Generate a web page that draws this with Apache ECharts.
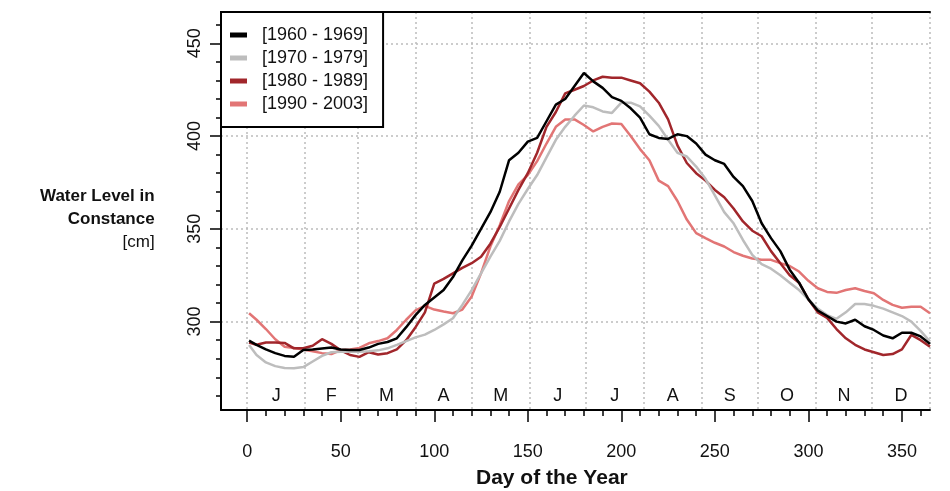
<!DOCTYPE html>
<html>
<head>
    <meta charset="utf-8">
    <title>Water Level in Constance</title>
    <script src="https://cdn.jsdelivr.net/npm/echarts@6/dist/echarts.min.js"></script>
    <style>
        html, body { margin: 0; padding: 0; background: #fff; }
        #chart { width: 950px; height: 491px; }
    </style>
</head>
<body>
<div id="chart"></div>
<script type="text/javascript">
    // day of year (sampled every 5 days)
    var days = [1, 5, 10, 15, 20, 25, 30, 35, 40, 45, 50, 55, 60, 65, 70, 75, 80, 85, 90, 95,
        100, 105, 110, 115, 120, 125, 130, 135, 140, 145, 150, 155, 160, 165, 170, 175, 180, 185, 190, 195,
        200, 205, 210, 215, 220, 225, 230, 235, 240, 245, 250, 255, 260, 265, 270, 275, 280, 285, 290, 295,
        300, 305, 310, 315, 320, 325, 330, 335, 340, 345, 350, 355, 360, 365];

    var level1960 = [289.7, 287.5, 285, 283, 281.5, 281, 284.7, 285, 285.5, 286, 285, 284.7, 284.7, 286, 288, 289, 291, 297, 303.5, 309,
        313, 317, 324, 333, 341, 350, 359, 370, 387, 391, 397, 399, 408, 417, 420, 427, 434, 429.5, 426, 421,
        419, 415, 410, 401, 399, 398.5, 401, 400, 396, 390, 387, 385, 378, 373, 365, 353, 345, 338, 328, 321,
        312, 306, 303, 300, 299, 301, 297.5, 295.5, 292.5, 291, 294, 294, 292, 288];

    var level1970 = [287.4, 282, 278, 276, 275, 274.8, 275.5, 278.5, 281.5, 283.5, 283.8, 283.8, 283.8, 284, 284.5, 285.6, 287.5, 289.5, 291.5, 293,
        295.5, 298.5, 301.8, 309, 317, 326, 335, 343.5, 354, 363.5, 371.5, 379, 388.5, 398, 405, 411, 416.5, 415.5, 413.3, 412.5,
        418, 418, 416, 411, 405.5, 398, 391, 389, 383.6, 377, 368, 359, 353, 344, 336, 331, 328.5, 325, 321, 317,
        312, 307, 303.5, 301.5, 305, 309.5, 309.5, 308.5, 307, 305, 303, 300, 295, 289.2];

    var level1980 = [288.7, 287.5, 288.7, 288.7, 288.5, 285.6, 285.6, 287, 290.5, 288, 284.5, 282, 281, 283.5, 282.3, 283, 285, 290, 297, 305,
        320.5, 323, 326, 329, 331.5, 335, 342, 351, 361, 371, 380, 391, 405, 413, 423, 425, 427, 430, 432, 431.5,
        431.5, 430, 428.5, 424, 418, 409, 395, 385.5, 380, 376, 371, 367, 361, 354, 349, 346, 338, 331.5, 325, 321,
        312, 305, 302, 296, 291, 287.5, 285, 283.5, 282, 282.5, 285, 292.8, 290, 286.5];

    var level1990 = [304.5, 301, 296, 290.5, 286.5, 285.8, 285, 284, 283, 282.5, 284.7, 285, 285.8, 288.3, 289.5, 291, 295.5, 301, 306, 308.5,
        306.5, 305.4, 304.5, 306.5, 313.5, 326, 340.5, 352, 365, 374, 379, 386.5, 396, 405, 409, 409, 406, 402.5, 405, 406.8,
        406.5, 400, 393, 387, 376, 373, 365, 355, 347.7, 345, 342.5, 340.5, 337.5, 335.5, 334, 333.3, 333.3, 331.5, 330, 327,
        322, 318, 316, 315.5, 317, 318, 316.5, 315.3, 311.7, 309, 307.5, 308, 308, 304.5];

    var seriesNames = ['[1960 - 1969]', '[1970 - 1979]', '[1980 - 1989]', '[1990 - 2003]'];
    var seriesLevels = [level1960, level1970, level1980, level1990];
    var seriesColors = ['#000000', '#bdbdbd', '#a1262b', '#e27575'];

    var monthLetters = ['J', 'F', 'M', 'A', 'M', 'J', 'J', 'A', 'S', 'O', 'N', 'D'];
    var monthStarts = [0, 31, 59, 90, 120, 151, 181, 212, 243, 273, 304, 334, 365];

    var xTicks = [0, 50, 100, 150, 200, 250, 300, 350];
    var xMinorTicks = [10, 20, 30, 40, 60, 70, 80, 90, 110, 120, 130, 140, 160, 170, 180, 190,
        210, 220, 230, 240, 260, 270, 280, 290, 310, 320, 330, 340, 360];
    var yTicks = [300, 350, 400, 450];
    var yMinorTicks = [260, 270, 280, 290, 310, 320, 330, 340, 360, 370, 380, 390, 410, 420, 430, 440, 460];

    var font = 'Liberation Sans, Arial, sans-serif';
    var gridLine = { color: '#bcbcbc', width: 1.5, type: [2, 3] };

    var monthMids = monthLetters.map(function (m, i) {
        return (monthStarts[i] + monthStarts[i + 1]) / 2;
    });

    var chart = echarts.init(document.getElementById('chart'), null, { renderer: 'canvas' });

    var series = seriesNames.map(function (name, i) {
        return {
            name: name,
            type: 'line',
            xAxisIndex: 0,
            yAxisIndex: 0,
            showSymbol: false,
            symbol: 'none',
            z: 10 - i,
            lineStyle: { color: seriesColors[i], width: 2.5 },
            itemStyle: { color: seriesColors[i] },
            data: days.map(function (d, k) { return [d, seriesLevels[i][k]]; })
        };
    });
    // black decade on top
    series[0].z = 14;

    chart.setOption({
        animation: false,
        backgroundColor: '#ffffff',
        grid: { left: 221, right: 20, top: 12, bottom: 81, containLabel: false },
        legend: {
            orient: 'vertical',
            left: 221,
            top: 12,
            padding: [14, 15, 14, 9],
            itemGap: 5,
            itemWidth: 17,
            itemHeight: 5,
            icon: 'rect',
            backgroundColor: '#ffffff',
            borderColor: '#000000',
            borderWidth: 2,
            borderRadius: 0,
            z: 20,
            data: seriesNames,
            textStyle: {
                fontFamily: font,
                fontSize: 18,
                color: '#111',
                lineHeight: 18,
                padding: [0, 0, 0, 10]
            }
        },
        xAxis: [
            {
                type: 'value', position: 'bottom', min: -14, max: 365,
                axisLine: { show: true, onZero: false, lineStyle: { color: '#000', width: 2 } },
                axisTick: { show: true, customValues: xTicks, length: 12, lineStyle: { color: '#000', width: 1.5 } },
                axisLabel: { customValues: xTicks, margin: 33, fontFamily: font, fontSize: 18, color: '#111' },
                splitLine: { show: false }
            },
            {
                type: 'value', position: 'bottom', min: -14, max: 365,
                axisLine: { show: false, onZero: false },
                axisTick: { show: true, customValues: xMinorTicks, length: 6, lineStyle: { color: '#000', width: 1.5 } },
                axisLabel: { show: false },
                splitLine: { show: false }
            },
            {
                type: 'value', position: 'bottom', min: -14, max: 365,
                axisLine: { show: false, onZero: false },
                axisTick: { show: false, customValues: monthStarts },
                axisLabel: {
                    customValues: monthMids, inside: true, margin: 5,
                    fontFamily: font, fontSize: 18, color: '#111',
                    formatter: function (v) {
                        return monthLetters[monthMids.indexOf(v)];
                    }
                },
                splitLine: { show: true, lineStyle: gridLine }
            },
            {
                type: 'value', position: 'top', min: -14, max: 365,
                axisLine: { show: true, onZero: false, lineStyle: { color: '#000', width: 2 } },
                axisTick: { show: false },
                axisLabel: { show: false },
                splitLine: { show: false }
            }
        ],
        yAxis: [
            {
                type: 'value', position: 'left', min: 252.35, max: 466.9,
                axisLine: { show: true, onZero: false, lineStyle: { color: '#000', width: 2 } },
                axisTick: { show: true, customValues: yTicks, length: 11, lineStyle: { color: '#000', width: 1.5 } },
                axisLabel: { customValues: yTicks, rotate: 90, margin: 17, fontFamily: font, fontSize: 18, color: '#111' },
                splitLine: { show: true, lineStyle: gridLine }
            },
            {
                type: 'value', position: 'left', min: 252.35, max: 466.9,
                axisLine: { show: false, onZero: false },
                axisTick: { show: true, customValues: yMinorTicks, length: 5, lineStyle: { color: '#000', width: 1.5 } },
                axisLabel: { show: false },
                splitLine: { show: false }
            }
        ],
        graphic: [
            {
                type: 'group', left: 40, top: 188,
                children: [
                    { type: 'text', style: { x: 115, y: 0, text: 'Water Level in', textAlign: 'right', font: 'bold 17px ' + font, fill: '#111' } },
                    { type: 'text', style: { x: 115, y: 23, text: 'Constance', textAlign: 'right', font: 'bold 17px ' + font, fill: '#111' } },
                    { type: 'text', style: { x: 115, y: 46, text: '[cm]', textAlign: 'right', font: '17px ' + font, fill: '#111' } }
                ]
            },
            {
                type: 'text', left: 476, top: 468,
                style: { text: 'Day of the Year', font: 'bold 21px ' + font, fill: '#111' }
            }
        ],
        series: series
    });
</script>
</body>
</html>
